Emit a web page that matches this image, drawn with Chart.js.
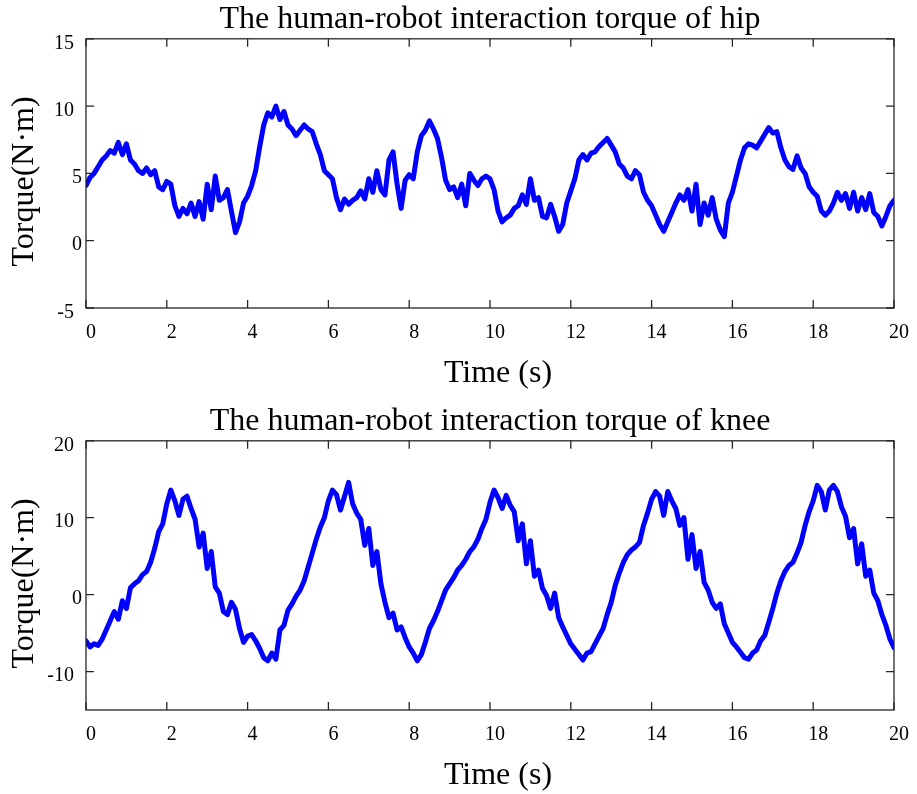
<!DOCTYPE html>
<html>
<head>
<meta charset="utf-8">
<script src="https://cdn.jsdelivr.net/npm/chart.js@4/dist/chart.umd.min.js"></script>
<style>
  html, body { margin: 0; padding: 0; background: #fff; overflow: hidden; }
  canvas { position: absolute; left: 0; }
  #hipChart { top: 0; }
  #kneeChart { top: 402px; }
</style>
</head>
<body>
<canvas id="hipChart" width="917" height="397"></canvas>
<canvas id="kneeChart" width="917" height="397"></canvas>
<script>
// Temps (s), échantillonné à 0.1 s
const timeS = [
  0.0,0.1,0.2,0.3,0.4,0.5,0.6,0.7,0.8,0.9,
  1.0,1.1,1.2,1.3,1.4,1.5,1.6,1.7,1.8,1.9,
  2.0,2.1,2.2,2.3,2.4,2.5,2.6,2.7,2.8,2.9,
  3.0,3.1,3.2,3.3,3.4,3.5,3.6,3.7,3.8,3.9,
  4.0,4.1,4.2,4.3,4.4,4.5,4.6,4.7,4.8,4.9,
  5.0,5.1,5.2,5.3,5.4,5.5,5.6,5.7,5.8,5.9,
  6.0,6.1,6.2,6.3,6.4,6.5,6.6,6.7,6.8,6.9,
  7.0,7.1,7.2,7.3,7.4,7.5,7.6,7.7,7.8,7.9,
  8.0,8.1,8.2,8.3,8.4,8.5,8.6,8.7,8.8,8.9,
  9.0,9.1,9.2,9.3,9.4,9.5,9.6,9.7,9.8,9.9,
  10.0,10.1,10.2,10.3,10.4,10.5,10.6,10.7,10.8,10.9,
  11.0,11.1,11.2,11.3,11.4,11.5,11.6,11.7,11.8,11.9,
  12.0,12.1,12.2,12.3,12.4,12.5,12.6,12.7,12.8,12.9,
  13.0,13.1,13.2,13.3,13.4,13.5,13.6,13.7,13.8,13.9,
  14.0,14.1,14.2,14.3,14.4,14.5,14.6,14.7,14.8,14.9,
  15.0,15.1,15.2,15.3,15.4,15.5,15.6,15.7,15.8,15.9,
  16.0,16.1,16.2,16.3,16.4,16.5,16.6,16.7,16.8,16.9,
  17.0,17.1,17.2,17.3,17.4,17.5,17.6,17.7,17.8,17.9,
  18.0,18.1,18.2,18.3,18.4,18.5,18.6,18.7,18.8,18.9,
  19.0,19.1,19.2,19.3,19.4,19.5,19.6,19.7,19.8,19.9,
  20.0
];

// Couple d'interaction hanche (N·m)
const hipTorque = [
  4.1,4.7,5.0,5.5,6.0,6.3,6.7,6.5,7.3,6.4,
  7.2,6.0,5.7,5.2,5.0,5.4,4.9,5.2,4.0,3.8,
  4.4,4.2,2.6,1.8,2.4,2.0,2.8,1.8,2.9,1.6,
  4.2,2.3,4.8,3.0,3.2,3.8,2.2,0.6,1.4,2.8,
  3.3,4.1,5.2,7.0,8.6,9.5,9.2,10.0,9.0,9.6,
  8.6,8.3,7.8,8.2,8.6,8.3,8.1,7.2,6.4,5.2,
  4.9,4.6,3.2,2.3,3.1,2.7,3.0,3.2,3.7,3.1,
  4.6,3.6,5.2,3.8,3.4,6.0,6.6,4.2,2.4,4.5,
  4.9,4.6,6.6,7.8,8.2,8.9,8.3,7.6,6.2,4.5,
  3.8,4.0,3.2,4.2,2.6,5.0,4.5,4.1,4.6,4.8,
  4.6,3.8,2.2,1.4,1.7,1.9,2.4,2.6,3.4,2.7,
  4.6,3.0,3.2,1.8,1.7,2.7,1.8,0.7,1.2,2.8,
  3.7,4.6,6.0,6.4,6.0,6.5,6.6,7.0,7.3,7.6,
  7.1,6.6,5.7,5.4,4.8,4.6,5.2,4.9,3.6,3.0,
  2.6,1.9,1.2,0.7,1.4,2.1,2.8,3.4,3.0,3.8,
  2.2,4.2,1.2,2.8,1.9,3.2,1.6,0.8,0.3,2.8,
  3.6,4.8,6.0,6.9,7.2,7.1,6.9,7.4,7.9,8.4,
  8.0,8.1,6.9,6.0,5.5,5.3,6.3,5.4,5.0,4.0,
  3.6,3.3,2.2,1.9,2.2,2.8,3.6,3.0,3.5,2.4,
  3.6,2.2,3.2,2.3,3.5,2.1,1.8,1.1,1.8,2.6,
  3.0
];

// Couple d'interaction genou (N·m)
const kneeTorque = [
  -6.0,-6.8,-6.4,-6.6,-5.8,-4.6,-3.4,-2.2,-3.2,-0.8,
  -1.8,0.9,1.4,1.8,2.6,3.0,4.2,6.0,8.2,9.2,
  11.8,13.6,12.2,10.3,12.4,12.8,11.2,9.8,6.2,8.0,
  3.4,5.6,1.0,0.2,-2.2,-2.6,-1.0,-1.9,-4.4,-6.2,
  -5.4,-5.2,-6.0,-7.0,-8.2,-8.6,-7.6,-8.4,-4.6,-4.0,
  -2.0,-1.2,-0.2,0.6,1.8,3.6,5.4,7.2,8.8,10.0,
  12.2,13.6,13.0,11.0,12.8,14.6,11.8,10.6,9.8,6.4,
  8.6,3.8,5.6,1.4,-1.0,-3.0,-2.4,-4.6,-4.2,-5.6,
  -6.8,-7.6,-8.6,-7.8,-6.2,-4.4,-3.4,-2.2,-0.8,0.6,
  1.4,2.2,3.2,3.8,4.6,5.6,6.2,7.2,8.6,9.8,
  12.0,13.6,12.6,11.2,12.9,11.6,10.8,7.0,9.2,4.0,
  7.0,2.4,3.2,0.8,-0.1,-1.8,0.2,-3.0,-4.2,-5.3,
  -6.4,-7.1,-7.8,-8.5,-7.6,-7.4,-6.4,-5.4,-4.4,-2.6,
  -1.0,1.2,2.8,4.2,5.2,5.8,6.2,6.8,9.0,10.6,
  12.4,13.4,12.8,10.3,13.4,12.2,11.2,9.0,10.0,4.6,
  7.8,3.4,5.6,1.6,0.6,-1.0,-1.8,-1.2,-3.8,-5.0,
  -6.2,-6.8,-7.5,-8.2,-8.4,-7.6,-7.2,-6.0,-5.3,-3.6,
  -1.8,0.2,1.8,3.0,3.8,4.2,5.4,6.8,9.0,10.8,
  12.2,14.2,13.4,11.0,13.6,14.2,13.4,11.4,10.2,7.4,
  8.6,4.0,6.6,2.4,3.2,0.2,-0.8,-2.6,-4.0,-5.8,
  -6.9
];

const timeTicks = [0, 2, 4, 6, 8, 10, 12, 14, 16, 18, 20];
const hipTicks = [-5, 0, 5, 10, 15];
const kneeTicks = [-10, 0, 10, 20];

const FONT = "'Liberation Serif', 'Times New Roman', serif";

// cadre + graduations vers l'intérieur (style MATLAB)
const boxPlugin = {
  id: 'box',
  afterDatasetsDraw(chart) {
    const { ctx, chartArea: a, scales: { x, y } } = chart;
    const len = 8;
    ctx.save();
    ctx.strokeStyle = '#262626';
    ctx.lineWidth = 1.3;
    ctx.strokeRect(a.left, a.top, a.right - a.left, a.bottom - a.top);
    ctx.beginPath();
    x.ticks.forEach(t => {
      const px = x.getPixelForValue(t.value);
      ctx.moveTo(px, a.bottom); ctx.lineTo(px, a.bottom - len);
      ctx.moveTo(px, a.top); ctx.lineTo(px, a.top + len);
    });
    y.ticks.forEach(t => {
      const py = y.getPixelForValue(t.value);
      ctx.moveTo(a.left, py); ctx.lineTo(a.left + len, py);
      ctx.moveTo(a.right, py); ctx.lineTo(a.right - len, py);
    });
    ctx.stroke();
    ctx.restore();
  }
};

function makeChart(id, title, values, yMin, yMax, yTicks) {
  const points = timeS.map((t, i) => ({ x: t, y: values[i] }));
  return new Chart(document.getElementById(id), {
    type: 'line',
    data: {
      datasets: [{
        data: points,
        borderColor: '#0000ff',
        borderWidth: 5,
        borderJoinStyle: 'round',
        borderCapStyle: 'round',
        pointRadius: 0,
        tension: 0
      }]
    },
    options: {
      responsive: false,
      animation: false,
      layout: { padding: { left: 0, right: 20, top: 0, bottom: 0 } },
      plugins: {
        legend: { display: false },
        tooltip: { enabled: false },
        title: {
          display: true,
          text: title,
          fullSize: false,
          color: '#000',
          font: { family: FONT, size: 32, weight: 'normal', lineHeight: 1.15 },
          padding: { top: 1, bottom: 1 }
        }
      },
      scales: {
        x: {
          type: 'linear',
          min: 0,
          max: 20,
          afterBuildTicks: s => { s.ticks = timeTicks.map(v => ({ value: v })); },
          afterFit: s => { s.height = 89; },
          grid: { display: false, drawTicks: false },
          border: { display: false },
          ticks: {
            color: '#000',
            font: { family: FONT, size: 20 },
            padding: 13,
            labelOffset: 5,
            maxRotation: 0
          },
          title: {
            display: true,
            text: '\u2002Time (s)',
            color: '#000',
            font: { family: FONT, size: 32, lineHeight: 1.15 },
            padding: { top: 0, bottom: 5 }
          }
        },
        y: {
          min: yMin,
          max: yMax,
          afterBuildTicks: s => { s.ticks = yTicks.map(v => ({ value: v })); },
          afterFit: s => { s.width = 86; },
          grid: { display: false, drawTicks: false },
          border: { display: false },
          ticks: {
            color: '#000',
            font: { family: FONT, size: 20 },
            padding: 4,
            labelOffset: 4.5,
            callback: v => (String(v).length > 1 ? v + '\u2009\u2009' : String(v))
          },
          title: {
            display: true,
            text: 'Torque(N·m)\u2002',
            color: '#000',
            font: { family: FONT, size: 32, lineHeight: 1.15 },
            padding: { top: 6, bottom: 0 }
          }
        }
      }
    },
    plugins: [boxPlugin]
  });
}

makeChart('hipChart', 'The human-robot interaction torque of hip', hipTorque, -5, 15, hipTicks);
makeChart('kneeChart', 'The human-robot interaction torque of knee', kneeTorque, -15, 20, kneeTicks);
</script>
</body>
</html>
